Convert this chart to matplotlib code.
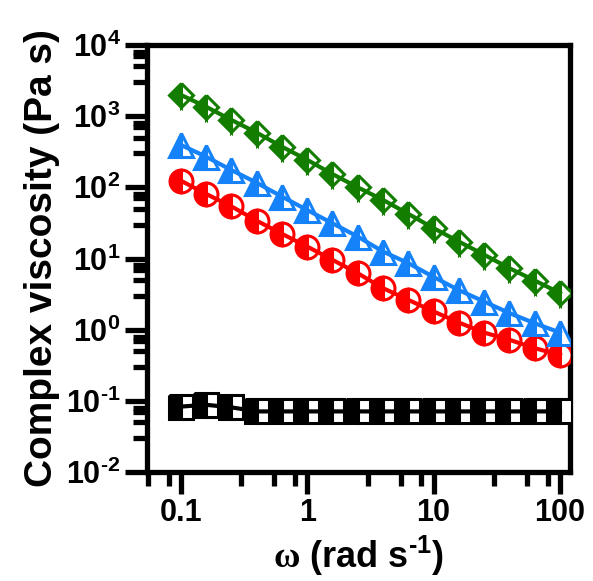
import matplotlib
matplotlib.use("Agg")
import matplotlib.pyplot as plt
from matplotlib.ticker import LogLocator, NullFormatter, FixedLocator, FuncFormatter
import numpy as np

plt.rcParams["font.family"] = "Liberation Sans"
plt.rcParams["font.weight"] = "bold"
plt.rcParams["mathtext.fontset"] = "custom"
plt.rcParams["mathtext.rm"] = "Liberation Sans:bold"
plt.rcParams["mathtext.bf"] = "Liberation Sans:bold"
plt.rcParams["mathtext.it"] = "Liberation Serif"
plt.rcParams["mathtext.default"] = "bf"

# frequency (rad/s)
omega = [0.1, 0.158, 0.251, 0.398, 0.631, 1.0, 1.58, 2.51, 3.98, 6.31,
         10.0, 15.8, 25.1, 39.8, 63.1, 100.0]

# complex viscosity (Pa s)
eta_green = [1990, 1360, 885, 587, 372, 243, 154, 100, 66.5, 42.3,
             26.7, 17.3, 11.3, 7.3, 4.9, 3.27]
eta_blue = [394, 270, 175, 116, 74, 48, 31.3, 20.3, 12.5, 8.6,
            5.5, 3.6, 2.48, 1.71, 1.23, 0.91]
eta_red = [124, 81, 54, 34, 22.2, 14.7, 9.6, 6.2, 3.83, 2.62,
           1.80, 1.26, 0.91, 0.72, 0.55, 0.44]
eta_black = [0.083, 0.088, 0.081, 0.071, 0.071, 0.071, 0.071, 0.071, 0.071, 0.071,
             0.071, 0.071, 0.071, 0.071, 0.071, 0.071]

series = [
    (eta_black, "black", "s", 17.5),
    (eta_red, "#ff0000", "o", 16.5),
    (eta_blue, "#1682fa", "^", 17),
    (eta_green, "#137d00", "D", 12.5),
]

fig = plt.figure(figsize=(5.93, 5.81), dpi=100)
ax = fig.add_axes([147 / 593, 1 - 472 / 581, (570 - 147) / 593, (472 - 45) / 581])

for y, c, m, ms in series:
    ax.plot(omega, y, linestyle="none", marker=m, markersize=ms,
            markerfacecolor=c, markerfacecoloralt="white", fillstyle="left",
            markeredgecolor=c, markeredgewidth=2.2, zorder=3)
    ax.plot(omega, y, color=c, linewidth=3, zorder=4)

ax.set_xscale("log")
ax.set_yscale("log")
ax.set_xlim(0.054, 120)
ax.set_ylim(1e-2, 1e4)

ax.xaxis.set_major_locator(FixedLocator([0.1, 1, 10, 100]))
ax.set_xticklabels(["0.1", "1", "10", "100"])
ax.xaxis.set_minor_locator(LogLocator(base=10, subs=[3, 5.5, 8]))
ax.xaxis.set_minor_formatter(NullFormatter())
ax.yaxis.set_major_locator(LogLocator(base=10, numticks=10))
ax.yaxis.set_major_formatter(FuncFormatter(
    lambda v, p: r"10$^{\text{%d}}$" % int(round(np.log10(v)))))
ax.yaxis.set_minor_locator(LogLocator(base=10, subs=[3, 5, 7, 8], numticks=10))
ax.yaxis.set_minor_formatter(NullFormatter())

for s in ax.spines.values():
    s.set_linewidth(3.8)
ax.tick_params(which="major", length=16, width=3.8, labelsize=22, pad=3)
ax.tick_params(which="minor", length=10, width=3.8)

ax.set_ylabel("Complex viscosity (Pa s)", fontsize=28, fontweight="bold", labelpad=4)
ax.set_xlabel(r"$\mathit{\omega}$ (rad s$^{\text{-1}}$)", fontsize=26, fontweight="bold", labelpad=4)

fig.savefig("out.png", dpi=100)
